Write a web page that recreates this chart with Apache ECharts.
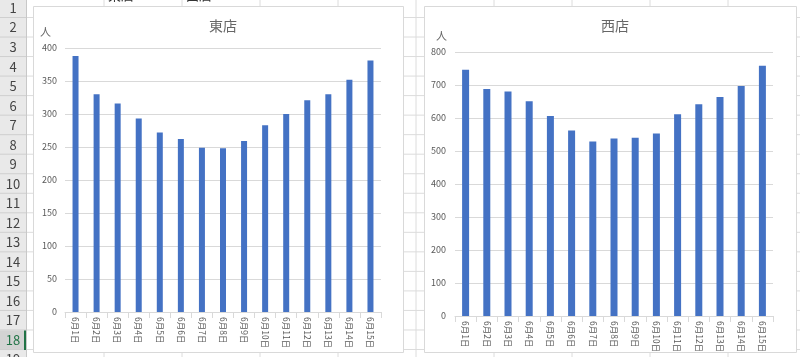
<!DOCTYPE html>
<html>
<head>
<meta charset="utf-8">
<script src="https://cdn.jsdelivr.net/npm/echarts@6/dist/echarts.min.js"></script>
<style>
html,body{margin:0;padding:0;background:#ffffff;}
#c{width:800px;height:357px;}
</style>
</head>
<body>
<div id="c"></div>
<script>
const categories = ['6月1日','6月2日','6月3日','6月4日','6月5日','6月6日','6月7日','6月8日','6月9日','6月10日','6月11日','6月12日','6月13日','6月14日','6月15日'];
const eastValues = [388,330,316,293,272,262,249,248,259,283,300,321,330,352,381];
const westValues = [746,688,680,651,606,562,529,538,540,553,611,642,664,697,758];
const eastAxisTicks = [0,50,100,150,200,250,300,350,400];
const westAxisTicks = [0,100,200,300,400,500,600,700,800];
const titles = ['東店','西店'];
const unitName = '人';

const FONT = '"Noto Sans CJK JP", "Noto Sans", sans-serif';
const GRID = '#d9d9d9';
const TXT = '#595959';
const TITLE = '#666666';
const BAR = '#4472C4';

// spreadsheet background
const bg = [];
bg.push({type:'rect', shape:{x:0,y:0,width:800,height:357}, style:{fill:'#ffffff'}, z:-20, silent:true});
const rowH = 19.53;
for (let k = 0; k < 19; k++) {
  const y = 17.5 + k * rowH;
  bg.push({type:'line', shape:{x1:26,y1:y,x2:800,y2:y}, style:{stroke:'#dcdcdc',lineWidth:1}, z:-19, silent:true});
}
for (let x = 104; x < 800; x += 78) {
  bg.push({type:'line', shape:{x1:x,y1:0,x2:x,y2:357}, style:{stroke:'#dcdcdc',lineWidth:1}, z:-19, silent:true});
}
bg.push({type:'rect', shape:{x:0,y:0,width:26,height:357}, style:{fill:'#e9e9e9'}, z:-18, silent:true});
for (let i = 1; i <= 19; i++) {
  const cy = 8 + (i - 1) * rowH;
  const sel = i === 18;
  if (sel) {
    bg.push({type:'rect', shape:{x:0,y:cy-9.5,width:26,height:rowH}, style:{fill:'#d3d3d3'}, z:-17, silent:true});
    bg.push({type:'line', shape:{x1:25,y1:cy-9.5,x2:25,y2:cy+10}, style:{stroke:'#217346',lineWidth:2}, z:-16, silent:true});
  }
  bg.push({type:'line', shape:{x1:0,y1:cy+9.5,x2:26,y2:cy+9.5}, style:{stroke:'#cfcfcf',lineWidth:1}, z:-17, silent:true});
  bg.push({type:'text', x:13, y:cy, style:{text:String(i), fill: sel ? '#217346' : '#444444', font:'13px ' + FONT, textAlign:'center', textVerticalAlign:'middle'}, z:-16, silent:true});
}
bg.push({type:'line', shape:{x1:26.5,y1:0,x2:26.5,y2:357}, style:{stroke:'#c8c8c8',lineWidth:1}, z:-17, silent:true});
bg.push({type:'text', x:108, y:-11, style:{text:'東店', fill:'#333', font:'13px ' + FONT}, z:-16, silent:true});
bg.push({type:'text', x:186, y:-11, style:{text:'西店', fill:'#333', font:'13px ' + FONT}, z:-16, silent:true});
// chart boxes
bg.push({type:'rect', shape:{x:33.5,y:6.5,width:370,height:346}, style:{fill:'#ffffff', stroke:GRID, lineWidth:1}, z:-10, silent:true});
bg.push({type:'rect', shape:{x:424.5,y:6.5,width:372,height:346}, style:{fill:'#ffffff', stroke:GRID, lineWidth:1}, z:-10, silent:true});

function yAxis(idx, ticks, margin) {
  return {
    type:'value', gridIndex: idx,
    min: ticks[0], max: ticks[ticks.length-1], interval: ticks[1]-ticks[0],
    name: unitName, nameLocation:'end', nameGap: 11,
    nameTextStyle:{color:TITLE, fontSize:11, fontFamily:FONT, align:'right', padding:[0, idx===0?14:8, 0, 0]},
    axisLine:{show:false}, axisTick:{show:false},
    axisLabel:{color:TXT, fontSize:9, fontFamily:FONT, margin: margin},
    splitLine:{lineStyle:{color:GRID, width:1}}
  };
}
function xAxis(idx) {
  return {
    type:'category', gridIndex: idx, data: categories, boundaryGap: true,
    axisLine:{lineStyle:{color:GRID}},
    axisTick:{show:true, length:6, lineStyle:{color:GRID}, alignWithLabel:false},
    axisLabel:{rotate:-90, color:TXT, fontSize:8.5, fontFamily:FONT, margin:5, interval:0}
  };
}

const chart = echarts.init(document.getElementById('c'), null, {renderer:'canvas'});
chart.setOption({
  animation:false,
  backgroundColor:'transparent',
  graphic: bg,
  title: [
    {text:titles[0], left:218, top:14, textAlign:'center', textStyle:{color:TITLE, fontSize:14, fontWeight:'normal', fontFamily:FONT}},
    {text:titles[1], left:610, top:14, textAlign:'center', textStyle:{color:TITLE, fontSize:14, fontWeight:'normal', fontFamily:FONT}}
  ],
  grid: [
    {left:65, right:419, top:48, bottom:45, containLabel:false},
    {left:455, right:27, top:52, bottom:41, containLabel:false}
  ],
  xAxis: [xAxis(0), xAxis(1)],
  yAxis: [yAxis(0, eastAxisTicks, 8), yAxis(1, westAxisTicks, 9)],
  series: [
    {type:'bar', xAxisIndex:0, yAxisIndex:0, data:eastValues, barWidth:6, itemStyle:{color:BAR}},
    {type:'bar', xAxisIndex:1, yAxisIndex:1, data:westValues, barWidth:7, itemStyle:{color:BAR}}
  ]
});
</script>
</body>
</html>
